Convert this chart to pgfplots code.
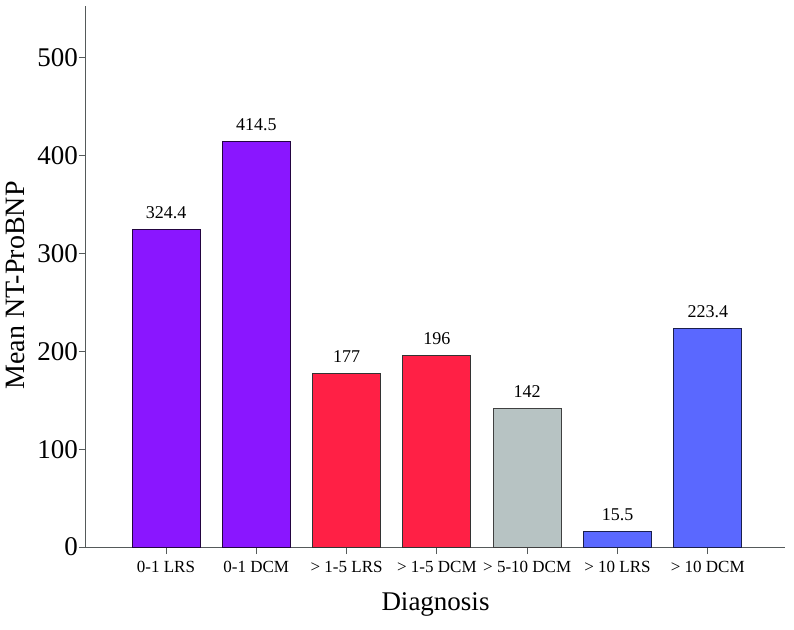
\documentclass[border=0pt]{standalone}
\usepackage{fontspec}
\setmainfont{Liberation Serif}
\usepackage{pgfplots}
\pgfplotsset{compat=1.18}
\definecolor{cpurple}{RGB}{138,22,255}
\definecolor{cred}{RGB}{255,32,69}
\definecolor{cgray}{RGB}{183,195,195}
\definecolor{cblue}{RGB}{90,104,255}
\definecolor{caxis}{RGB}{85,90,90}
\begin{document}
\begin{tikzpicture}
\path[use as bounding box] (-86pt,-82pt) rectangle (708pt,547pt);
\begin{axis}[
  scale only axis,
  width=699pt, height=541pt,
  xmin=-0.886, xmax=6.855,
  ymin=0, ymax=553,
  axis lines*=left,
  axis line style={caxis, line width=1pt, -},
  ybar, bar width=68pt, bar shift=0pt,
  xtick={0,1,2,3,4,5,6},
  xticklabels={0-1 LRS, 0-1 DCM, > 1-5 LRS, > 1-5 DCM, > 5-10 DCM, > 10 LRS, > 10 DCM},
  ytick={0,100,200,300,400,500},
  tick align=outside,
  major tick length=7pt,
  tick style={caxis, line width=0.9pt},
  /pgf/number format/assume math mode=true,
  yticklabel style={font=\fontsize{27}{30}\selectfont, inner sep=1pt},
  xticklabel style={font=\fontsize{17}{19}\selectfont, inner sep=2pt, yshift=-5pt},
  every axis y label/.style={at={(axis description cs:0,0.5)}, xshift=-71pt, yshift=-9pt, rotate=90, anchor=center, font=\fontsize{28}{32}\selectfont},
  every axis x label/.style={at={(axis description cs:0.5,0)}, yshift=-57pt, anchor=center, font=\fontsize{27}{30}\selectfont},
  ylabel={Mean NT-ProBNP},
  xlabel={Diagnosis},
  nodes near coords,
  every node near coord/.append style={font=\fontsize{18}{20}\selectfont, anchor=base, yshift=11pt, inner sep=0pt, black},
  point meta=explicit symbolic,
]
\addplot[fill=cpurple, draw=black!75!cpurple, line width=0.9pt] coordinates {(0,324.4) [324.4] (1,414.5) [414.5]};
\addplot[fill=cred, draw=black!80, line width=0.9pt] coordinates {(2,177) [177] (3,196) [196]};
\addplot[fill=cgray, draw=black!75, line width=0.9pt] coordinates {(4,142) [142]};
\addplot[fill=cblue, draw=black!70!cblue, line width=0.9pt] coordinates {(5,15.5) [15.5] (6,223.4) [223.4]};
\end{axis}
\end{tikzpicture}
\end{document}
